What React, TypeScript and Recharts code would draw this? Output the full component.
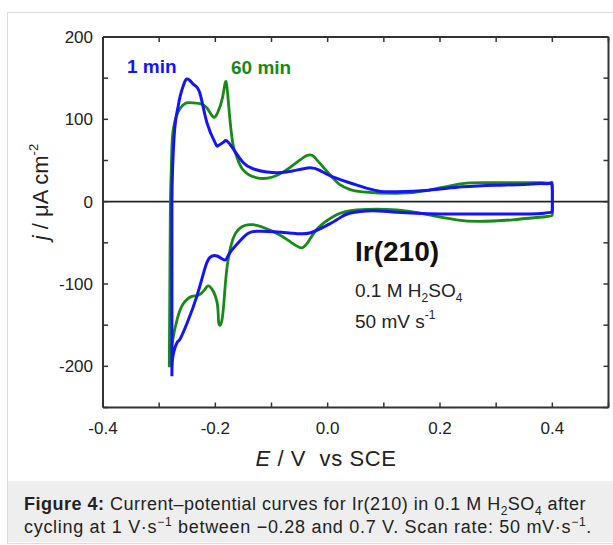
import { Line, LineChart, ReferenceLine, XAxis, YAxis } from 'recharts'

// potential (V vs SCE) and current density (µA cm-2)
// each loop starts at the cathodic vertex and runs anodic, then back
const oneMinE = [
  -0.2773, -0.2773, -0.2773, -0.2773, -0.276, -0.272, -0.267, -0.263, -0.256, -0.2507,
  -0.245, -0.238, -0.2276, -0.215, -0.2, -0.195, -0.186, -0.18, -0.169,
  -0.151, -0.133, -0.108, -0.073, -0.0356, -0.014, 0.009, 0.039, 0.062, 0.09,
  0.123, 0.18, 0.24, 0.3, 0.35, 0.38, 0.393, 0.399, 0.4, 0.4, 0.397, 0.385, 0.36, 0.3,
  0.2, 0.123, 0.08, 0.039, 0.021, 0.0036, -0.032, -0.068, -0.126, -0.151,
  -0.174, -0.183, -0.197, -0.21, -0.219, -0.233, -0.25, -0.263, -0.268, -0.2756,
  -0.2773,
]
const oneMinJ = [
  -212, -150, -50, 0, 42, 91, 113, 127, 143, 149,
  147, 142, 132, 96, 71, 68, 72, 74, 65,
  48, 40, 36, 36, 41, 38, 30, 23, 18, 13,
  12, 14, 18, 20, 21, 22, 22, 21, 5, -10, -13, -14, -15, -15,
  -15, -13, -11, -14, -20, -27, -38, -38, -36, -44,
  -62, -71, -66, -68, -82, -115, -147, -167, -171, -188,
  -212,
]

const sixtyMinE = [
  -0.282, -0.281, -0.28, -0.278, -0.2756, -0.267, -0.258, -0.251, -0.24, -0.2276,
  -0.215, -0.204, -0.196, -0.187, -0.181, -0.176, -0.169, -0.162, -0.151, -0.126,
  -0.098, -0.068, -0.037, -0.0196, 0.0036, 0.021, 0.039, 0.062, 0.123, 0.181,
  0.24, 0.3, 0.382, 0.398, 0.4, 0.4, 0.39, 0.329, 0.27, 0.229,
  0.181, 0.123, 0.0516, 0.016, -0.014, -0.032, -0.046, -0.068, -0.098, -0.133,
  -0.156, -0.169, -0.178, -0.183, -0.188, -0.194, -0.197, -0.21, -0.219, -0.231,
  -0.242, -0.258, -0.268, -0.2756, -0.282,
]
const sixtyMinJ = [
  -201, -100, 0, 50, 84, 108, 117, 120, 120, 119,
  114, 103, 108, 127, 146, 115, 71, 55, 39, 29,
  30, 41, 56, 51, 33, 21, 15, 12, 10, 14,
  22, 23, 23, 22, 20, -10, -18, -22, -24, -22,
  -16, -10, -10, -16, -30, -46, -56, -48, -36, -28,
  -32, -46, -74, -107, -143, -147, -122, -103, -107, -114,
  -115, -125, -143, -167, -201,
]

const xTicks = [-0.4, -0.3, -0.2, -0.1, 0, 0.1, 0.2, 0.3, 0.4, 0.5]
const xLabels = [-0.4, -0.2, 0, 0.2, 0.4]
const yTicks = [-250, -200, -150, -100, -50, 0, 50, 100, 150, 200]
const yLabels = [-200, -100, 0, 100, 200]

const oneMin = oneMinE.map((E, i) => ({ E, j: oneMinJ[i] }))
const sixtyMin = sixtyMinE.map((E, i) => ({ E, j: sixtyMinJ[i] }))

const BLUE = '#1414f5'
const GREEN = '#178a17'
const FRAME = '#333'
const FONT = '"Liberation Sans", Arial, sans-serif'
const TICK = 5

const hasLabel = (list: number[], v: number) => list.some((l) => Math.abs(l - v) < 1e-6)

function BottomTick({ x, y, payload }: any) {
  const v = payload.value
  return (
    <g>
      <line x1={x} x2={x} y1={y} y2={y - TICK} stroke={FRAME} strokeWidth={1.5} />
      {hasLabel(xLabels, v) && (
        <text x={x} y={y + 26} textAnchor="middle" fontSize={17} fontFamily={FONT} fill="#222">
          {v.toFixed(1)}
        </text>
      )}
    </g>
  )
}

function TopTick({ x, y }: any) {
  return <line x1={x} x2={x} y1={y} y2={y + TICK} stroke={FRAME} strokeWidth={1.5} />
}

function LeftTick({ x, y, payload }: any) {
  const v = payload.value
  return (
    <g>
      <line x1={x} x2={x + TICK} y1={y} y2={y} stroke={FRAME} strokeWidth={1.5} />
      {hasLabel(yLabels, v) && (
        <text x={x - 10} y={y + 6} textAnchor="end" fontSize={17} fontFamily={FONT} fill="#222">
          {v}
        </text>
      )}
    </g>
  )
}

function RightTick({ x, y }: any) {
  return <line x1={x} x2={x - TICK} y1={y} y2={y} stroke={FRAME} strokeWidth={1.5} />
}

export default function App() {
  const axisLine = { stroke: FRAME, strokeWidth: 2 }
  const sub = { fontSize: 12, lineHeight: 0 }
  return (
    <div style={{ position: 'relative', width: 613, height: 545, background: '#fff', overflow: 'hidden' }}>
      <style>{'body{margin:0}'}</style>
      <div
        style={{
          position: 'absolute',
          left: 7,
          top: 12,
          width: 640,
          height: 530,
          border: '1px solid #dcdcdc',
          background: '#fff',
        }}
      />
      <div style={{ position: 'absolute', left: 8, top: 481, width: 640, height: 61, background: '#eeeeee' }} />
      <div
        style={{
          position: 'absolute',
          left: 24,
          top: 493,
          fontFamily: FONT,
          fontSize: 18,
          letterSpacing: 0.5,
          lineHeight: '23px',
          color: '#222',
          whiteSpace: 'nowrap',
        }}
      >
        <b>Figure 4:</b> Current–potential curves for Ir(210) in 0.1 M H<sub style={sub}>2</sub>SO
        <sub style={sub}>4</sub> after
        <br />
        <span style={{ letterSpacing: 0.7 }}>
          cycling at 1 V·s<sup style={sub}>−1</sup> between −0.28 and 0.7 V. Scan rate: 50 mV·s
          <sup style={sub}>−1</sup>.
        </span>
      </div>

      <div style={{ position: 'absolute', left: 0, top: 0 }}>
        <LineChart width={613} height={480} margin={{ top: 36, right: 3.5, bottom: 32.5, left: 43 }}>
          <XAxis
            xAxisId="b"
            dataKey="E"
            type="number"
            domain={[-0.4, 0.5]}
            ticks={xTicks}
            interval={0}
            height={40}
            tickSize={0}
            tickMargin={0}
            tickLine={false}
            axisLine={axisLine}
            tick={<BottomTick />}
            allowDataOverflow
          />
          <XAxis
            xAxisId="t"
            orientation="top"
            dataKey="E"
            type="number"
            domain={[-0.4, 0.5]}
            ticks={xTicks}
            interval={0}
            height={1}
            tickSize={0}
            tickMargin={0}
            tickLine={false}
            axisLine={axisLine}
            tick={<TopTick />}
            allowDataOverflow
          />
          <YAxis
            yAxisId="l"
            type="number"
            domain={[-250, 200]}
            ticks={yTicks}
            interval={0}
            width={60}
            tickSize={0}
            tickMargin={0}
            tickLine={false}
            axisLine={axisLine}
            tick={<LeftTick />}
            allowDataOverflow
          />
          <YAxis
            yAxisId="r"
            orientation="right"
            type="number"
            domain={[-250, 200]}
            ticks={yTicks}
            interval={0}
            width={1}
            tickSize={0}
            tickMargin={0}
            tickLine={false}
            axisLine={axisLine}
            tick={<RightTick />}
            allowDataOverflow
          />
          <ReferenceLine xAxisId="b" yAxisId="l" y={0} stroke="#222" strokeWidth={1.8} />
          <Line
            xAxisId="b"
            yAxisId="l"
            data={sixtyMin}
            dataKey="j"
            type="natural"
            stroke={GREEN}
            strokeWidth={2.8}
            strokeLinejoin="round"
            dot={false}
            activeDot={false}
            isAnimationActive={false}
          />
          <Line
            xAxisId="b"
            yAxisId="l"
            data={oneMin}
            dataKey="j"
            type="natural"
            stroke={BLUE}
            strokeWidth={3}
            strokeLinejoin="round"
            dot={false}
            activeDot={false}
            isAnimationActive={false}
          />
        </LineChart>
      </div>

      <svg
        width={613}
        height={480}
        style={{ position: 'absolute', left: 0, top: 0, pointerEvents: 'none' }}
        fontFamily={FONT}
      >
        <text x={127} y={73} fontSize={19} fontWeight="bold" fill={BLUE}>
          1 min
        </text>
        <text x={231} y={74} fontSize={19} fontWeight="bold" fill={GREEN}>
          60 min
        </text>
        <text x={355} y={261} fontSize={28} fontWeight="bold" fill="#111">
          Ir(210)
        </text>
        <text x={355} y={297} fontSize={19} fill="#222">
          0.1 M H<tspan fontSize={12} dy={5}>2</tspan>
          <tspan dy={-5}>SO</tspan>
          <tspan fontSize={12} dy={5}>4</tspan>
        </text>
        <text x={355} y={328} fontSize={19} fill="#222">
          50 mV s<tspan fontSize={12} dy={-9}>-1</tspan>
        </text>
        <text x={326} y={466} fontSize={22} textAnchor="middle" fill="#222" xmlSpace="preserve" letterSpacing={0.6}>
          <tspan fontStyle="italic">E</tspan> / V  vs SCE
        </text>
        <text transform="translate(48 192) rotate(-90)" fontSize={22} textAnchor="middle" fill="#222">
          <tspan fontStyle="italic">j</tspan> / μA cm<tspan fontSize={13} dy={-10}>-2</tspan>
        </text>
      </svg>
    </div>
  )
}
